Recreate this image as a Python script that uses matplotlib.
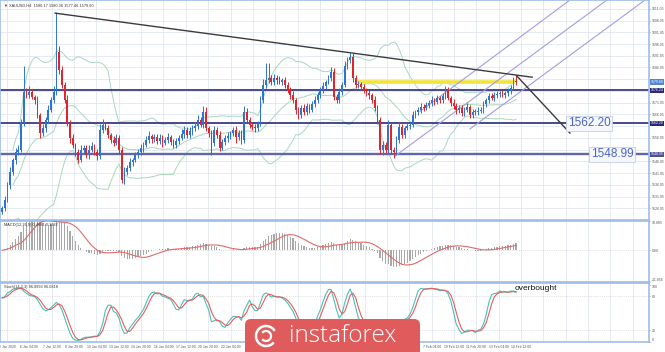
import numpy as np
import pandas as pd
import matplotlib
matplotlib.use('Agg')
import matplotlib.pyplot as plt
from matplotlib.patches import FancyBboxPatch, Arc
from matplotlib.transforms import blended_transform_factory

plt.rcParams['font.family'] = ['Liberation Sans', 'DejaVu Sans']

# ---- XAUUSD H4 candles (close of every bar) ----
first_open = 1524.5
close = [
    1526.2, 1529.6, 1535.9, 1541.5, 1546.6, 1550.0, 1550.9, 1562.8, 1575.6, 1574.3,
    1575.6, 1573.4, 1572.2, 1565.8, 1558.1, 1560.2, 1563.7, 1567.9, 1572.2, 1575.6,
    1592.6, 1584.9, 1578.6, 1572.2, 1562.4, 1556.0, 1553.0, 1550.0, 1546.6, 1550.9,
    1551.7, 1548.7, 1550.9, 1552.6, 1550.0, 1548.3, 1559.4, 1561.5, 1560.2, 1557.3,
    1555.1, 1553.9, 1556.0, 1550.9, 1538.1, 1541.5, 1543.2, 1545.8, 1546.6, 1548.7,
    1550.0, 1551.7, 1553.0, 1555.1, 1556.8, 1555.6, 1556.4, 1554.7, 1556.0, 1553.9,
    1555.1, 1556.4, 1554.3, 1553.0, 1554.7, 1556.0, 1557.7, 1559.4, 1557.3, 1558.9,
    1560.2, 1561.1, 1563.7, 1561.5, 1567.1, 1560.2, 1558.1, 1553.9, 1559.4, 1557.3,
    1551.7, 1554.3, 1556.0, 1556.8, 1558.1, 1559.4, 1556.4, 1558.1, 1555.1, 1567.1,
    1563.7, 1561.5, 1560.7, 1560.2, 1562.0, 1572.2, 1578.6, 1580.7, 1581.5, 1579.8,
    1581.5, 1580.7, 1579.8, 1580.7, 1578.6, 1576.4, 1574.3, 1572.2, 1567.9, 1565.8,
    1568.8, 1567.1, 1569.6, 1567.9, 1570.5, 1572.2, 1574.3, 1576.4, 1578.1, 1579.8,
    1581.5, 1584.1, 1573.4, 1572.2, 1575.6, 1578.6, 1586.7, 1589.2, 1590.5, 1581.5,
    1578.6, 1579.0, 1577.7, 1576.4, 1575.1, 1574.3, 1572.2, 1568.8, 1563.7, 1550.9,
    1553.0, 1550.9, 1561.5, 1550.9, 1550.0, 1555.1, 1560.7, 1557.3, 1560.2, 1561.1,
    1561.5, 1565.8, 1567.1, 1567.9, 1569.2, 1568.8, 1570.0, 1570.9, 1572.2, 1571.3,
    1573.0, 1572.2, 1573.9, 1576.4, 1573.0, 1570.9, 1569.6, 1567.9, 1568.8, 1566.6,
    1567.9, 1569.2, 1565.8, 1567.1, 1567.1, 1567.5, 1567.9, 1570.5, 1572.2, 1573.9,
    1573.0, 1574.3, 1574.7, 1575.1, 1574.3, 1575.1, 1576.0, 1577.3, 1580.3, 1579.8,
]
upper_wick = [
    0.8, 1.5, 1.2, 2.0, 1.0, 1.6, 2.2, 1.4, 11.1, 1.8,
    2.4, 1.2, 1.0, 1.5, 0.9, 1.8, 1.3, 2.0, 1.1, 2.6,
    17.1, 2.5, 1.6, 1.4, 2.0, 1.2, 1.8, 1.0, 1.5, 2.2,
    1.4, 1.1, 1.9, 1.6, 1.0, 1.3, 2.4, 2.8, 1.5, 1.2,
    1.0, 1.6, 1.9, 1.2, 1.4, 2.1, 1.3, 1.7, 1.0, 1.5,
    1.2, 1.8, 1.1, 1.6, 2.3, 1.0, 1.5, 1.2, 1.9, 1.1,
    1.4, 1.7, 1.0, 1.3, 1.5, 1.2, 2.0, 1.6, 1.1, 1.8,
    1.3, 1.5, 2.2, 1.2, 2.6, 1.9, 1.0, 1.4, 1.7, 1.2,
    1.5, 1.1, 1.3, 1.6, 1.0, 1.4, 1.8, 1.2, 1.5, 2.4,
    1.6, 1.2, 1.0, 1.4, 1.1, 1.8, 2.5, 7.2, 6.4, 1.5,
    1.8, 1.2, 1.6, 1.0, 1.4, 1.1, 1.3, 1.7, 1.0, 1.5,
    1.2, 1.6, 1.4, 1.0, 1.3, 1.8, 1.5, 1.2, 1.6, 1.1,
    1.4, 2.0, 1.8, 1.2, 1.5, 1.3, 1.9, 1.4, 1.6, 1.7,
    1.5, 1.2, 1.0, 1.4, 1.1, 1.3, 1.0, 1.6, 1.2, 1.4,
    1.8, 1.3, 2.2, 1.5, 1.2, 1.6, 2.0, 1.4, 1.1, 1.3,
    1.2, 1.5, 1.0, 1.3, 1.6, 1.1, 1.4, 1.2, 1.5, 1.0,
    1.3, 1.1, 1.4, 1.6, 1.2, 1.0, 1.5, 1.3, 1.1, 1.4,
    1.2, 1.6, 1.0, 1.3, 1.1, 1.5, 1.2, 1.4, 1.0, 1.3,
    1.1, 1.4, 1.2, 1.0, 1.3, 1.1, 1.5, 1.2, 1.8, 2.5,
]
lower_wick = [
    1.0, 1.2, 0.9, 1.5, 1.1, 1.8, 1.3, 1.0, 1.6, 1.2,
    1.4, 1.0, 1.7, 1.3, 2.2, 1.1, 1.5, 1.2, 1.0, 1.4,
    1.3, 1.6, 1.1, 1.5, 1.2, 2.0, 1.4, 1.6, 1.3, 0.8,
    1.5, 1.2, 1.8, 1.0, 1.4, 1.6, 1.1, 1.3, 1.0, 1.5,
    1.2, 1.4, 1.0, 1.7, 1.3, 1.5, 1.1, 1.3, 1.6, 1.0,
    1.4, 1.2, 1.5, 1.0, 1.3, 1.6, 1.1, 1.4, 1.2, 1.8,
    1.0, 1.3, 1.5, 1.2, 1.1, 1.4, 1.0, 1.6, 1.3, 1.2,
    1.5, 1.1, 1.3, 1.0, 1.4, 1.2, 1.6, 5.2, 1.3, 1.1,
    1.4, 1.0, 1.3, 1.5, 1.2, 1.1, 2.6, 1.3, 1.5, 1.2,
    1.0, 1.4, 1.2, 1.6, 1.3, 1.0, 1.5, 1.2, 1.1, 1.4,
    1.2, 1.5, 1.0, 1.3, 1.4, 1.1, 1.6, 1.2, 1.8, 1.5,
    1.3, 1.1, 1.4, 1.2, 1.0, 1.5, 1.3, 1.1, 1.4, 1.2,
    1.0, 1.3, 1.1, 1.5, 1.2, 1.4, 1.0, 1.3, 1.2, 1.6,
    1.2, 1.4, 1.1, 1.3, 1.0, 1.5, 1.2, 1.4, 1.8, 1.6,
    2.0, 1.3, 1.5, 1.8, 2.5, 1.2, 1.4, 1.1, 1.3, 1.0,
    1.2, 1.0, 1.4, 1.1, 1.3, 1.2, 1.0, 1.4, 1.1, 1.3,
    1.0, 1.2, 1.1, 1.3, 1.0, 1.4, 1.2, 1.5, 1.1, 1.3,
    1.2, 1.0, 1.3, 1.1, 1.4, 1.2, 1.0, 1.3, 1.1, 1.2,
    1.0, 1.3, 1.1, 1.2, 1.0, 1.4, 1.1, 1.2, 1.0, 1.3,
]

# ---- drawn objects (bar index, price) ----
level_dark = 1576.24
level_support1 = 1562.20
level_support2 = 1548.99
yellow_x = [131.0, 188.6]
yellow_y = 1579.8
trend_x, trend_y = [19.5, 194.9], [1609.2, 1581.9]
target_x, target_y = [189.3, 208.8], [1582.4, 1558.1]
channel_lines = [
    ([153.7, 208.8], [1567.3, 1614.8]),
    ([144.5, 222.4], [1548.3, 1614.8]),
    ([172.1, 236.4], [1559.9, 1614.8]),
]

date_labels = ['2 Jan 2020', '6 Jan 04:00', '7 Jan 12:00', '8 Jan 20:00', '10 Jan 04:00',
               '13 Jan 12:00', '14 Jan 20:00', '16 Jan 04:00', '17 Jan 12:00', '20 Jan 20:00',
               '22 Jan 04:00', '23 Jan 12:00', '24 Jan 20:00', '28 Jan 04:00', '29 Jan 12:00',
               '30 Jan 20:00', '3 Feb 04:00', '4 Feb 12:00', '5 Feb 20:00', '7 Feb 04:00',
               '10 Feb 12:00', '11 Feb 20:00', '13 Feb 04:00', '14 Feb 12:00']

# ---- derived series ----
c = pd.Series(close)
o = pd.Series([first_open] + close[:-1])
hi = np.maximum(o, c) + pd.Series(upper_wick)
lo = np.minimum(o, c) - pd.Series(lower_wick)
x = np.arange(len(close))

mid = c.rolling(20, min_periods=5).mean()
sd = c.rolling(20, min_periods=5).std(ddof=0)
bb_up, bb_dn = mid + 2 * sd, mid - 2 * sd

macd = c.ewm(span=12, adjust=False).mean() - c.ewm(span=26, adjust=False).mean()
macd_sig = macd.rolling(9, min_periods=1).mean()

hh = hi.rolling(14, min_periods=1).max()
ll = lo.rolling(14, min_periods=1).min()
stoch_k = 100 * (c - ll).rolling(3, min_periods=1).sum() / (hh - ll).rolling(3, min_periods=1).sum()
stoch_d = stoch_k.rolling(3, min_periods=1).mean()

# ---- figure layout (pixel based, 665x352) ----
W, H = 665, 352
px = 2.72           # pixels per bar
fig = plt.figure(figsize=(W / 100, H / 100), dpi=100)
fig.patch.set_facecolor('white')

def frac(x0, y0, x1, y1):
    return [x0 / W, 1 - y1 / H, (x1 - x0) / W, (y1 - y0) / H]

ax = fig.add_axes(frac(0, 0, 649, 220))
ax_m = fig.add_axes(frac(0, 221, 649, 282), sharex=ax)
ax_s = fig.add_axes(frac(0, 283, 649, 342), sharex=ax)

ax.set_xlim(-2 / px, 647 / px)
ax.set_ylim(1521.05, 1614.8)
ax_m.set_ylim(-11.856, 10.885)
ax_s.set_ylim(-0.5, 103.5)

tick_px = [7 + 22.35 * k for k in range(29)]
tick_pos = [(p - 2) / px for p in tick_px]
border = '#9dbde6'
grid_c = '#e2e7ef'
for a in (ax, ax_m, ax_s):
    a.set_facecolor('white')
    for sp in a.spines.values():
        sp.set_color(border)
        sp.set_linewidth(1.2)
    a.yaxis.tick_right()
    a.tick_params(axis='y', labelsize=2.5, colors='#555555', length=1, width=0.4, pad=0.8)
    a.tick_params(axis='x', length=0, labelsize=2.4, colors='#555555', pad=2)
    for t in tick_pos:
        a.axvline(t, color=grid_c, lw=0.6, zorder=0)
ax.tick_params(axis='x', labelbottom=False)
ax_m.tick_params(axis='x', labelbottom=False)
# the labels sitting under the watermark are covered in the screenshot
shown = ['' if 238 < p < 428 else lab for p, lab in zip(tick_px, date_labels)]
ax_s.set_xticks(tick_pos[:len(date_labels)])
ax_s.set_xticklabels(shown)

# price tags on the right scale
tags = [(yellow_y, '#4f86d9'), (level_dark, '#2b2a78'),
        (level_support1, '#2b2a78'), (level_support2, '#4d509c')]

# price grid + ticks (tick labels hidden behind the tags are left out)
grid_y = np.arange(1521.05, 1612, 5)
for v in grid_y:
    ax.axhline(v, color=grid_c, lw=0.6, zorder=0)
yt = [v for v in grid_y if min(abs(v - t) for t, _ in tags) > 2.2 and v > 1522]
ax.set_yticks(yt)
ax.set_yticklabels(['%.2f' % v for v in yt])

# bollinger bands
bb_col = '#a9d7bd'
for band in (bb_up, mid, bb_dn):
    ax.plot(x, band, color=bb_col, lw=0.7, zorder=1)

# candles
up = c >= o
col = np.where(up, '#2f73d6', '#e2242a')
ax.vlines(x, lo, hi, colors=col, lw=0.7, zorder=3)
body = np.maximum((c - o).abs(), 0.35)
ax.bar(x, body, bottom=np.minimum(o, c), width=0.62, color=col, linewidth=0, zorder=4)

# levels and drawn lines
ax.axhline(level_dark, color='#2b2a78', lw=1.2, zorder=2)
ax.axhline(level_support1, color='#2b2a78', lw=1.2, zorder=2)
ax.axhline(level_support2, color='#6266ad', lw=1.7, zorder=2)
ax.plot(yellow_x, [yellow_y, yellow_y], color='#f3e43c', lw=2.6, solid_capstyle='butt', zorder=2)
for cx, cy in channel_lines:
    ax.plot(cx, cy, color='#a49ce0', lw=0.8, zorder=2)
ax.plot(trend_x, trend_y, color='#3b3b3b', lw=1.0, zorder=5)
ax.plot(target_x, target_y, color='#3b3b3b', lw=1.0, zorder=5)

box = dict(boxstyle='square,pad=0.12', facecolor='#f5f7fc', edgecolor='#c4d0ea', lw=0.6)
ax.text((589 - 2) / px, level_support1, '1562.20', fontsize=8.5, color='#4a66c8',
        ha='center', va='center', bbox=box, zorder=6)
ax.text((612 - 2) / px, level_support2, '1548.99', fontsize=8.5, color='#4a66c8',
        ha='center', va='center', bbox=box, zorder=6)

tr = blended_transform_factory(ax.transAxes, ax.transData)
for val, fc in tags:
    ax.text(1.002, val, '%.2f' % val, transform=tr, fontsize=2.5, color='white',
            ha='left', va='center', zorder=7, clip_on=False,
            bbox=dict(boxstyle='square,pad=0.2', facecolor=fc, edgecolor='none'))

ax.text(0.006, 0.985, '\u25bc XAUUSD,H4  1580.17 1580.36 1577.46 1579.60', transform=ax.transAxes,
        fontsize=2.8, color='#333333', va='top', ha='left')

# MACD panel
ax_m.bar(x, macd, width=0.45, color='#a8a8a8', linewidth=0, zorder=2)
ax_m.plot(x, macd_sig, color='#e06a6a', lw=0.8, zorder=3)
ax_m.axhline(0, color='#c8c8c8', lw=0.5, ls=':', zorder=1)
ax_m.set_yticks([10.885, 0.0, -11.856])
ax_m.set_yticklabels(['10.885', '0.00', '-11.856'])
ml = ax_m.get_yticklabels()
ml[0].set_va('top')
ml[2].set_va('bottom')
ax_m.text(0.006, 0.97, 'MACD(12,26,9) 0.4681 0.1232', transform=ax_m.transAxes,
          fontsize=2.8, color='#333333', va='top', ha='left')

# Stochastic panel
ax_s.plot(x, stoch_k, color='#4dbfb8', lw=0.8, zorder=3)
ax_s.plot(x, stoch_d, color='#e06060', lw=0.8, zorder=3)
for lv in (80, 20):
    ax_s.axhline(lv, color='#c8c8c8', lw=0.5, ls=':', zorder=1)
ax_s.set_yticks([100, 80, 20, 0])
ax_s.set_yticklabels(['100', '80', '20', '0'])
sl = ax_s.get_yticklabels()
sl[0].set_va('top')
sl[3].set_va('bottom')
ax_s.text(0.006, 0.97, 'Stoch(14,3,3) 96.8993 96.0818', transform=ax_s.transAxes,
          fontsize=2.8, color='#333333', va='top', ha='left')
ax_s.text(188.6, 93.0, 'overbought', fontsize=6, color='#111111', ha='left', va='center')

# instaforex watermark (pixel overlay)
ov = fig.add_axes([0, 0, 1, 1])
ov.set_xlim(0, W)
ov.set_ylim(H, 0)
ov.axis('off')
ov.add_patch(FancyBboxPatch((245, 319), 175, 45, boxstyle='round,pad=0,rounding_size=6',
                            facecolor='#e05c5c', edgecolor='none'))
ov.add_patch(Arc((266, 336), 20, 20, theta1=40, theta2=330, color='white', lw=1.8))
ov.add_patch(Arc((266, 336), 10, 10, theta1=220, theta2=500, color='white', lw=1.6))
ov.text(289, 336, 'instaforex', fontsize=17.5, color='white', family='Open Sans',
        fontweight='light', ha='left', va='center')

fig.savefig('out.png', dpi=100)
